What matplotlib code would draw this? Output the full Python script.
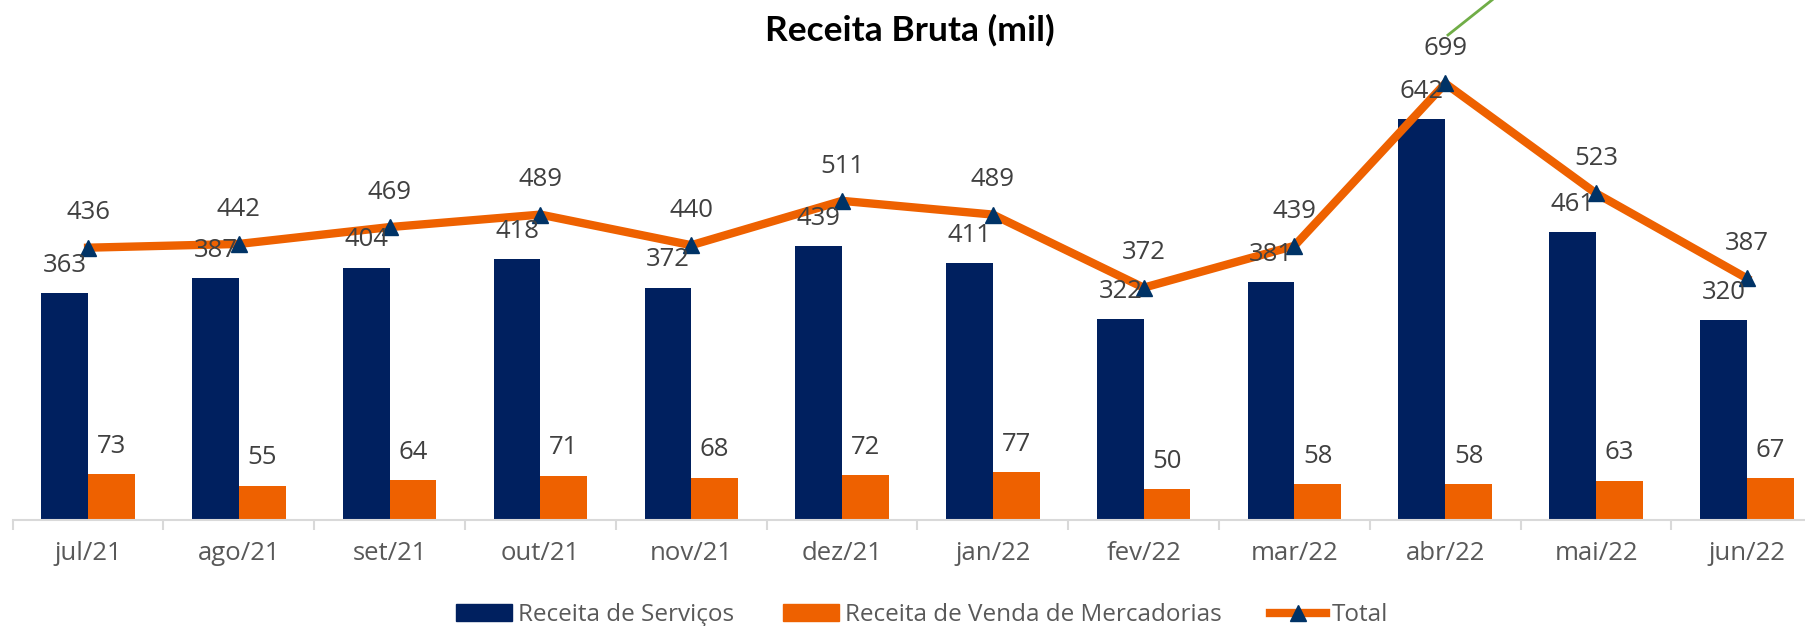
import numpy as np
import matplotlib.pyplot as plt
from matplotlib.lines import Line2D
from matplotlib.patches import Patch

meses = ['jul/21', 'ago/21', 'set/21', 'out/21', 'nov/21', 'dez/21',
         'jan/22', 'fev/22', 'mar/22', 'abr/22', 'mai/22', 'jun/22']
servicos = [363, 387, 404, 418, 372, 439, 411, 322, 381, 642, 461, 320]
mercadorias = [73, 55, 64, 71, 68, 72, 77, 50, 58, 58, 63, 67]
total = [436, 442, 469, 489, 440, 511, 489, 372, 439, 699, 523, 387]

NAVY = '#00205F'
ORANGE = '#EE6100'
MARKER = '#003366'
LABEL = '#404040'
GRAY = '#595959'

plt.rcParams['font.family'] = ['Open Sans', 'DejaVu Sans']


def main():
    fig = plt.figure(figsize=(18.05, 6.26), dpi=100)
    # axes run a bit past the right edge, like in the original export
    ax = fig.add_axes([0.00704, 0.1693, 1.0025, 0.7982])

    x = np.arange(len(meses))
    w = 0.31
    ax.bar(x - w / 2, servicos, w, color=NAVY, zorder=2)
    ax.bar(x + w / 2, mercadorias, w, color=ORANGE, zorder=2)
    ax.plot(x, total, color=ORANGE, lw=6, marker='^', ms=12,
            mfc=MARKER, mec=MARKER, zorder=3, clip_on=False)

    fs = 18.5
    for i in range(len(meses)):
        ax.annotate(str(servicos[i]), (x[i] - w / 2, servicos[i]),
                    xytext=(0, 20), textcoords='offset points',
                    ha='center', va='center', fontsize=fs, color=LABEL,
                    zorder=4)
        ax.annotate(str(mercadorias[i]), (x[i] + w / 2, mercadorias[i]),
                    xytext=(0, 20), textcoords='offset points',
                    ha='center', va='center', fontsize=fs, color=LABEL,
                    zorder=4)
        ax.annotate(str(total[i]), (x[i], total[i]),
                    xytext=(0, 25), textcoords='offset points',
                    ha='center', va='center', fontsize=fs, color=LABEL,
                    zorder=4)

    ax.set_xlim(-0.5, len(meses) - 0.5)
    ax.set_ylim(0, 800)
    ax.set_yticks([])
    ax.set_xticks(x)
    ax.set_xticklabels(meses, fontsize=18.5, color=GRAY)
    ax.tick_params(axis='x', which='major', length=0, pad=15)
    ax.set_xticks(np.arange(-0.5, len(meses)), minor=True)
    ax.tick_params(axis='x', which='minor', length=7, width=1.5,
                   color='#D9D9D9')
    for s in ['top', 'right', 'left']:
        ax.spines[s].set_visible(False)
    ax.spines['bottom'].set_color('#D9D9D9')
    ax.spines['bottom'].set_linewidth(1.5)

    fig.text(0.504, 1 - 30 / 626, 'Receita Bruta (mil)', ha='center',
             va='center', fontsize=25.5, fontweight='bold', color='black',
             family=['Lato', 'DejaVu Sans'])

    # stray green connector at the top right of the source image
    fig.add_artist(Line2D([1448 / 1805, 1492 / 1805], [1 - 35 / 626, 1.0],
                          color='#70AD47', lw=2))

    handles = [Patch(color=NAVY), Patch(color=ORANGE),
               Line2D([], [], color=ORANGE, lw=6, marker='^', ms=12,
                      mfc=MARKER, mec=MARKER)]
    leg = fig.legend(handles, ['Receita de Serviços',
                               'Receita de Venda de Mercadorias', 'Total'],
                     loc='center', bbox_to_anchor=(0.511, 1 - 615 / 626),
                     ncol=3, frameon=False, fontsize=17.5,
                     handlelength=2.3, handleheight=0.65,
                     handletextpad=0.25, columnspacing=2.0)
    for t in leg.get_texts():
        t.set_color(GRAY)

    fig.savefig('out.png', dpi=100)


if __name__ == '__main__':
    main()
